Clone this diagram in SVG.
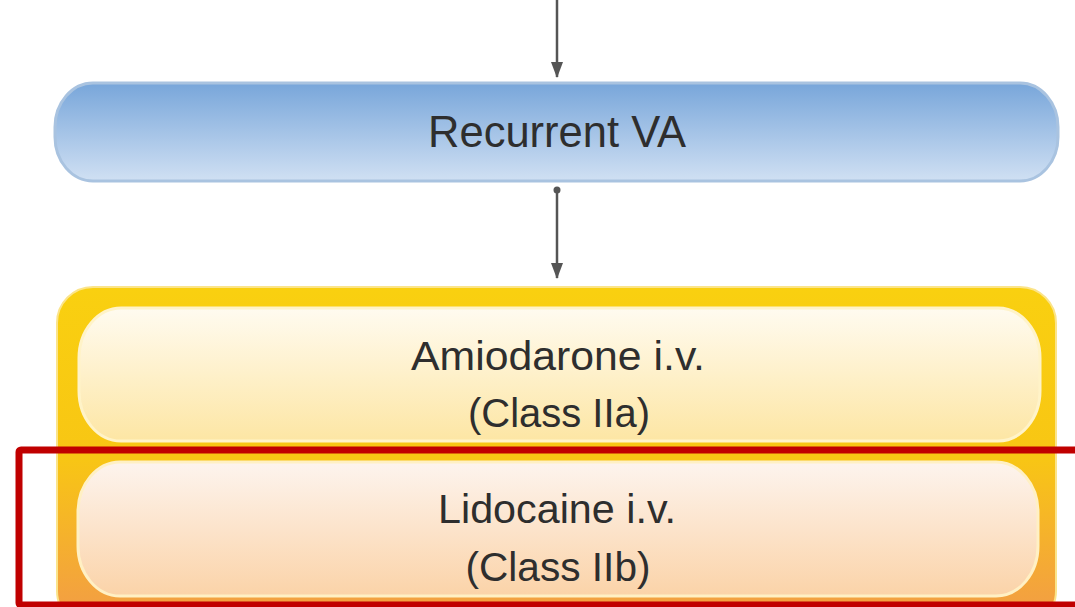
<svg xmlns="http://www.w3.org/2000/svg" width="1075" height="607" viewBox="0 0 1075 607">
  <style>
    .label { font-family: "Liberation Sans", "DejaVu Sans", sans-serif; fill: #2e2e2e; text-anchor: middle; }
    .big { font-size: 44px; }
    .mid { font-size: 41px; }
    .edge { stroke: #555; stroke-width: 2.5; fill: none; }
  </style>
  <defs>
    <linearGradient id="blueFill" x1="0" y1="0" x2="0" y2="1">
      <stop offset="0" stop-color="#78a6da"/>
      <stop offset="1" stop-color="#d0e0f3"/>
    </linearGradient>
    <linearGradient id="frameFill" x1="0" y1="0" x2="0" y2="1">
      <stop offset="0" stop-color="#f9d010"/>
      <stop offset="0.5" stop-color="#f8c614"/>
      <stop offset="1" stop-color="#f29a48"/>
    </linearGradient>
    <linearGradient id="amioFill" x1="0" y1="0" x2="0" y2="1">
      <stop offset="0" stop-color="#fffbf0"/>
      <stop offset="1" stop-color="#fde6a4"/>
    </linearGradient>
    <linearGradient id="lidoFill" x1="0" y1="0" x2="0" y2="1">
      <stop offset="0" stop-color="#fdf4ee"/>
      <stop offset="1" stop-color="#fbd3a8"/>
    </linearGradient>
    <marker id="head" viewBox="0 0 16 12" refX="15" refY="6" markerWidth="16" markerHeight="12" orient="auto" markerUnits="userSpaceOnUse">
      <path d="M0,0 L16,6 L0,12 z" fill="#555"/>
    </marker>
  </defs>

  <g id="connectors">
    <line class="edge" x1="557" y1="0" x2="557" y2="77" marker-end="url(#head)"/>
    <circle cx="557" cy="190" r="3.5" fill="#555"/>
    <line class="edge" x1="557" y1="190" x2="557" y2="278" marker-end="url(#head)"/>
  </g>

  <g id="recurrent-va">
    <rect x="55" y="83" width="1003" height="98" rx="38" ry="44" fill="url(#blueFill)" stroke="#a9c3e0" stroke-width="3"/>
    <text class="label big" x="557" y="147" textLength="258" lengthAdjust="spacingAndGlyphs">Recurrent VA</text>
  </g>

  <g id="drug-frame">
    <rect x="57" y="287" width="999" height="340" rx="36" ry="36" fill="url(#frameFill)" stroke="#fbe48a" stroke-width="2"/>
  </g>

  <g id="amiodarone">
    <rect x="79" y="308" width="961" height="133" rx="42" ry="50" fill="url(#amioFill)" stroke="#fff3c8" stroke-width="3"/>
    <text class="label mid" x="558" y="370" textLength="294" lengthAdjust="spacingAndGlyphs">Amiodarone i.v.</text>
    <text class="label mid" x="559" y="427" textLength="182" lengthAdjust="spacingAndGlyphs">(Class IIa)</text>
  </g>

  <g id="lidocaine">
    <rect x="78" y="462" width="960" height="134" rx="42" ry="50" fill="url(#lidoFill)" stroke="#fff0c4" stroke-width="3"/>
    <text class="label mid" x="557" y="523" textLength="238" lengthAdjust="spacingAndGlyphs">Lidocaine i.v.</text>
    <text class="label mid" x="558" y="581" textLength="185" lengthAdjust="spacingAndGlyphs">(Class IIb)</text>
  </g>

  <g id="highlight">
    <rect x="19" y="450" width="1070" height="155" rx="2" fill="none" stroke="#c00000" stroke-width="7"/>
  </g>
</svg>
